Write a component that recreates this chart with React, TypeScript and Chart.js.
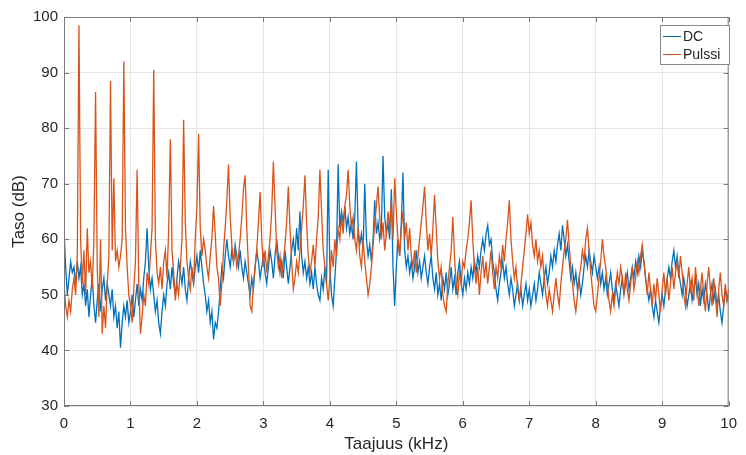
import React, { useEffect, useRef } from "react";
import { Chart, registerables } from "chart.js";

Chart.register(...registerables);

// Sampling step of the spectrum (kHz)
const FREQ_STEP_KHZ = 0.025;

// Pulssi level (dB), one value per 0.025 kHz from 0 to 10 kHz
const pulseLevel: number[] = [
  // 0–1 kHz
  52, 48, 46, 49, 47, 51, 53, 50, 57, 98.5, 60, 52, 58, 50, 62, 54, 56, 51, 60, 86.5,
  55, 46, 60, 43, 48, 44, 52, 57, 88.5, 58, 71, 56, 58, 55, 57, 60, 92, 62, 55, 50,
  // 1–2 kHz
  48, 45, 51, 56, 72.5, 52, 43, 46, 50, 48, 54, 52, 57, 62, 90.5, 60, 54, 52, 55, 51,
  56, 58, 53, 62, 78, 58, 54, 49, 52, 50, 55, 60, 81.5, 63, 56, 53, 51, 55, 52, 60,
  // 2–3 kHz
  66, 79, 62, 57, 60, 58, 55, 53, 57, 60, 66, 61, 55, 53, 48, 52, 58, 62, 67, 73.5,
  64, 59, 56, 58, 55, 57, 60, 64, 69, 71.5, 62, 55, 48, 47, 52, 55, 58, 63, 68.5, 60,
  // 3–4 kHz
  55, 58, 54, 57, 60, 65, 74, 66, 58, 55, 57, 53, 56, 59, 63, 69.5, 62, 56, 51, 53,
  56, 54, 58, 62, 66, 71.5, 63, 57, 54, 56, 59, 55, 60, 64, 72.5, 65, 58, 55, 52, 49,
  // 4–5 kHz
  53, 58, 55, 60, 57, 62, 60, 64, 61, 66, 68, 72.5, 66, 62, 64, 60, 58, 62, 57, 55,
  60, 56, 53, 50, 52, 55, 59, 63, 66, 69.5, 64, 60, 63, 58, 61, 65, 62, 67, 60, 71,
  // 5–6 kHz
  65, 60, 57, 62, 65, 60, 63, 58, 62, 57, 55, 58, 54, 57, 60, 63, 66, 69.5, 63, 58,
  61, 57, 62, 68, 62, 56, 53, 55, 50, 48, 47, 52, 55, 58, 64, 57, 52, 50, 54, 52,
  // 6–7 kHz
  56, 55, 58, 60, 63, 67, 60, 55, 52, 55, 50, 54, 57, 53, 56, 52, 55, 58, 54, 51,
  55, 53, 57, 55, 59, 56, 60, 63, 67, 60, 56, 53, 55, 51, 49, 52, 55, 58, 61, 64.5,
  // 7–8 kHz
  61, 63, 59, 57, 60, 56, 58, 55, 57, 53, 50, 48, 51, 49, 47, 50, 53, 50, 48, 52,
  55, 58, 60, 63.5, 59, 55, 52, 49, 47, 50, 53, 55, 58, 56, 60, 62, 58, 54, 51, 48,
  // 8–9 kHz
  47, 50, 53, 56, 60, 57, 55, 52, 49, 47, 50, 48, 51, 54, 52, 55, 53, 50, 54, 51,
  49, 52, 55, 51, 53, 56, 54, 57, 59, 56, 53, 50, 54, 51, 48, 52, 49, 53, 50, 47,
  // 9–10 kHz
  51, 54, 50, 53, 49, 52, 55, 51, 54, 56, 53, 57, 54, 50, 48, 52, 55, 51, 53, 49,
  55, 52, 48, 51, 54, 50, 47, 52, 55, 51, 48, 53, 50, 46, 51, 54, 50, 48, 52, 49,
  51,
];

// DC level (dB), one value per 0.025 kHz from 0 to 10 kHz
const dcLevel: number[] = [
  // 0–1 kHz
  62, 55, 50, 53, 56, 54, 55, 52, 56, 53, 55, 50, 52, 48, 51, 46, 50, 53, 48, 45,
  49, 52, 47, 51, 53, 49, 52, 50, 48, 51, 46, 48, 44, 47, 40.5, 45, 48, 46, 49, 45,
  // 1–2 kHz
  47, 50, 46, 49, 52, 48, 51, 49, 53, 56, 62, 55, 51, 53, 50, 47, 49, 45, 43, 47,
  50, 48, 52, 54, 51, 55, 52, 50, 53, 56, 54, 52, 55, 51, 49, 53, 56, 54, 52, 55,
  // 2–3 kHz
  57, 54, 58, 55, 52, 50, 47, 49, 45, 47, 42, 45, 44, 47, 51, 55, 53, 57, 60, 57,
  55, 58, 56, 59, 57, 55, 58, 55, 53, 56, 54, 52, 50, 53, 51, 55, 58, 56, 53, 55,
  // 3–4 kHz
  57, 54, 52, 55, 58, 56, 53, 57, 60, 57, 54, 56, 53, 58, 55, 52, 55, 58, 60, 57,
  62, 58, 65, 57, 54, 56, 53, 55, 52, 54, 51, 55, 52, 50, 49, 53, 51, 55, 52, 72.5,
  // 4–5 kHz
  55, 50, 48, 53, 58, 73.5, 62, 65, 63, 66, 62, 64, 61, 63, 60, 64, 74, 62, 59, 61,
  58, 70, 60, 57, 59, 56, 60, 67, 61, 63, 60, 62, 75, 64, 61, 63, 60, 69, 55, 48,
  // 5–6 kHz
  55, 60, 57, 63, 72, 58, 55, 57, 54, 56, 53, 55, 58, 54, 56, 53, 55, 57, 54, 52,
  55, 57, 53, 51, 54, 50, 52, 49, 53, 51, 54, 50, 52, 55, 51, 53, 50, 54, 56, 52,
  // 6–7 kHz
  50, 53, 51, 54, 52, 55, 53, 56, 54, 57, 55, 58, 60, 58, 61, 62.5, 59, 60, 56, 54,
  51, 49, 52, 54, 56, 53, 55, 52, 50, 53, 51, 48, 50, 52, 49, 51, 48, 50, 52, 49,
  // 7–8 kHz
  51, 48, 50, 52, 49, 51, 54, 52, 50, 53, 55, 52, 54, 57, 55, 58, 56, 59, 61, 58,
  62.5, 60, 57, 59, 56, 53, 55, 52, 54, 51, 53, 50, 52, 55, 57, 55, 58, 56, 54, 57,
  // 8–9 kHz
  55, 53, 55, 52, 54, 51, 53, 50, 52, 54, 51, 49, 52, 50, 48, 51, 53, 50, 52, 54,
  51, 53, 55, 53, 56, 54, 57, 55, 58, 56, 53, 51, 49, 51, 48, 46, 49, 47, 45, 48,
  // 9–10 kHz
  50, 48, 51, 53, 55, 53, 56, 58, 55, 57, 54, 52, 50, 53, 51, 48, 50, 52, 49, 51,
  53, 50, 52, 48, 51, 49, 52, 50, 47, 50, 52, 49, 51, 48, 50, 47, 45, 48, 51, 49,
  50,
];

const seriesNames = ["DC", "Pulssi"];
const seriesColors = ["#0072BD", "#D95319"];

const xTickMin = 0;
const xTickMax = 10;
const yTickMin = 30;
const yTickMax = 100;

const freqs = dcLevel.map((_, i) => +(i * FREQ_STEP_KHZ).toFixed(3));

const FONT = "'Liberation Sans', Arial, Helvetica, sans-serif";
const TEXT_COLOR = "#262626";
const FRAME_COLOR = "#7a7a7a";

const framePlugin = {
  id: "matlabFrame",
  afterDatasetsDraw(chart: any) {
    const { ctx, chartArea: a, scales } = chart;
    ctx.save();
    ctx.strokeStyle = FRAME_COLOR;
    ctx.lineWidth = 1;
    ctx.strokeRect(a.left + 0.5, a.top + 0.5, a.right - a.left - 1, a.bottom - a.top - 1);
    const L = 5;
    ctx.beginPath();
    scales.x.ticks.forEach((t: any) => {
      const px = Math.round(scales.x.getPixelForValue(t.value)) + 0.5;
      ctx.moveTo(px, a.bottom);
      ctx.lineTo(px, a.bottom - L);
      ctx.moveTo(px, a.top);
      ctx.lineTo(px, a.top + L);
    });
    scales.y.ticks.forEach((t: any) => {
      const py = Math.round(scales.y.getPixelForValue(t.value)) + 0.5;
      ctx.moveTo(a.left, py);
      ctx.lineTo(a.left + L, py);
      ctx.moveTo(a.right, py);
      ctx.lineTo(a.right - L, py);
    });
    ctx.stroke();

    // legend box
    const bx = 660.5, by = 25.5, bw = 69, bh = 39;
    ctx.fillStyle = "#ffffff";
    ctx.fillRect(bx, by, bw, bh);
    ctx.strokeStyle = "#8a8a8a";
    ctx.strokeRect(bx, by, bw, bh);
    ctx.font = `14px ${FONT}`;
    ctx.textBaseline = "middle";
    ctx.textAlign = "left";
    chart.data.datasets.forEach((ds: any, i: number) => {
      const cy = 36 + i * 18;
      ctx.strokeStyle = ds.borderColor;
      ctx.lineWidth = 1;
      ctx.beginPath();
      ctx.moveTo(663, cy + 0.5);
      ctx.lineTo(681, cy + 0.5);
      ctx.stroke();
      ctx.fillStyle = TEXT_COLOR;
      ctx.fillText(ds.label, 683, cy + 1);
    });
    ctx.restore();
  },
};

export default function App() {
  const ref = useRef<HTMLCanvasElement | null>(null);

  useEffect(() => {
    if (!ref.current) return;
    const chart = new Chart(ref.current, {
      type: "line",
      data: {
        datasets: [
          {
            label: seriesNames[0],
            data: dcLevel.map((v, i) => ({ x: freqs[i], y: v })),
            borderColor: seriesColors[0],
            backgroundColor: seriesColors[0],
            borderWidth: 1.3,
            pointRadius: 0,
            tension: 0,
            order: 1,
          },
          {
            label: seriesNames[1],
            data: pulseLevel.map((v, i) => ({ x: freqs[i], y: v })),
            borderColor: seriesColors[1],
            backgroundColor: seriesColors[1],
            borderWidth: 1.3,
            pointRadius: 0,
            tension: 0,
            order: 0,
          },
        ],
      },
      options: {
        responsive: false,
        animation: false,
        events: [],
        layout: { padding: { left: 0, right: 11, top: 17, bottom: 0 } },
        plugins: {
          legend: { display: false },
          tooltip: { enabled: false },
        },
        scales: {
          x: {
            type: "linear",
            min: xTickMin,
            max: xTickMax,
            afterFit: (s: any) => {
              s.height = 49;
            },
            ticks: {
              stepSize: 1,
              color: TEXT_COLOR,
              font: { family: FONT, size: 15 },
              padding: 9,
              maxRotation: 0,
            },
            grid: { color: "#e6e6e6", drawTicks: false },
            border: { display: false },
            title: {
              display: true,
              text: "Taajuus (kHz)",
              color: TEXT_COLOR,
              font: { family: FONT, size: 17 },
              padding: { top: 0, bottom: 0 },
            },
          },
          y: {
            type: "linear",
            min: yTickMin,
            max: yTickMax,
            afterFit: (s: any) => {
              s.width = 64;
            },
            ticks: {
              stepSize: 10,
              color: TEXT_COLOR,
              font: { family: FONT, size: 15 },
              padding: 6,
            },
            grid: { color: "#e6e6e6", drawTicks: false },
            border: { display: false },
            title: {
              display: true,
              text: "Taso (dB)",
              color: TEXT_COLOR,
              font: { family: FONT, size: 17 },
              padding: { top: 9, bottom: 0 },
            },
          },
        },
      },
      plugins: [framePlugin],
    });
    return () => chart.destroy();
  }, []);

  return (
    <div style={{ position: "absolute", left: 0, top: 0, width: 746, height: 455, background: "#fff" }}>
      <canvas ref={ref} width={746} height={455} style={{ display: "block" }} />
    </div>
  );
}
